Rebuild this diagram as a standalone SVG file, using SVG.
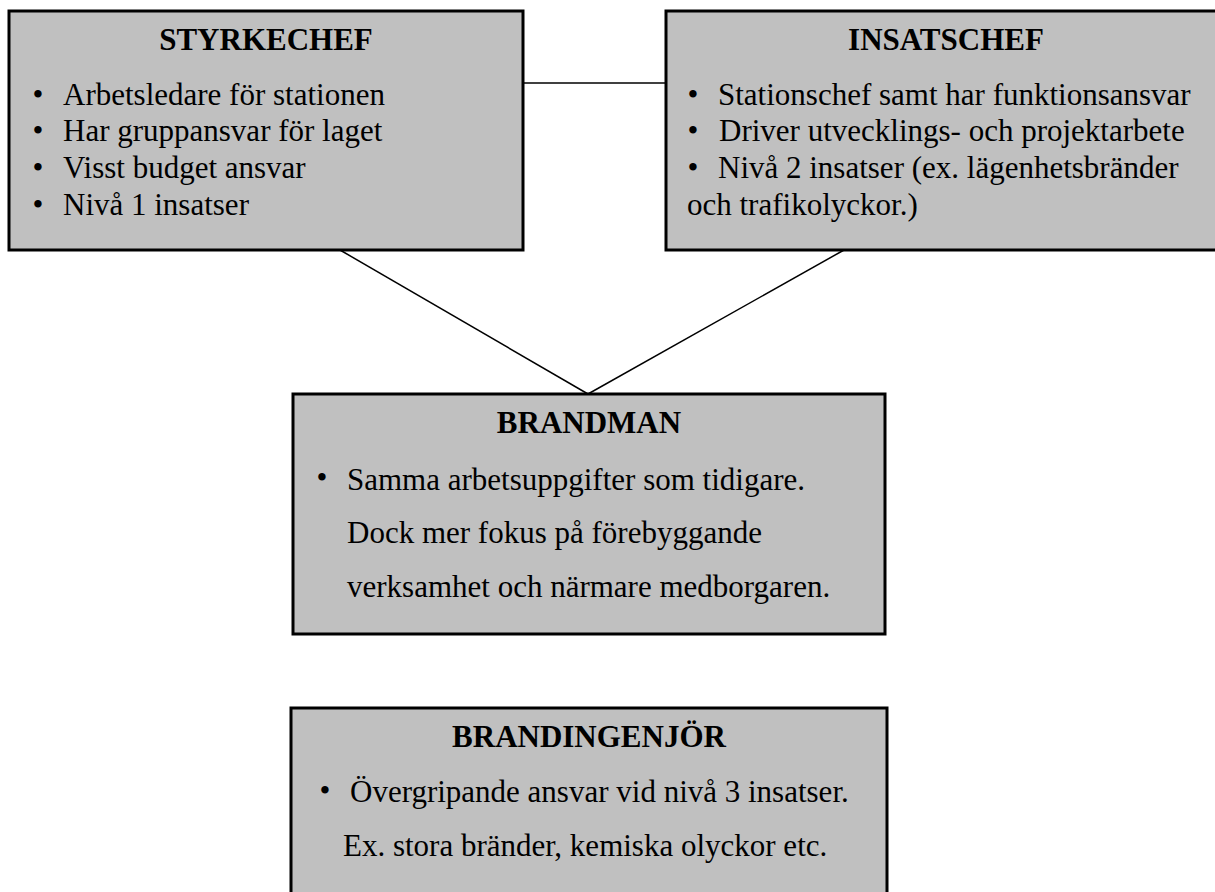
<svg xmlns="http://www.w3.org/2000/svg" width="1215" height="892" viewBox="0 0 1215 892">
<style>
.box{fill:#c0c0c0;stroke:#000;stroke-width:3}
.t{font-family:"Liberation Serif","Times New Roman",serif;font-size:31px;fill:#000}
.b{font-family:"Liberation Serif","Times New Roman",serif;font-size:31px;fill:#000;text-anchor:middle}
.h{font-family:"Liberation Serif","Times New Roman",serif;font-size:31px;font-weight:bold;fill:#000;text-anchor:middle}
.c{stroke:#000;stroke-width:1.5;fill:none}
</style>
<rect width="1215" height="892" fill="#fff"/>
<g id="connectors">
<line class="c" x1="523" y1="83" x2="667" y2="83"/>
<line class="c" x1="340" y1="250" x2="588" y2="394"/>
<line class="c" x1="844" y1="250" x2="588" y2="394"/>
</g>
<g id="styrkechef">
<rect class="box" x="9" y="11" width="514" height="239"/>
<text class="h" x="266" y="50">STYRKECHEF</text>
<text class="b" x="38" y="105">•</text><text class="t" x="63" y="105">Arbetsledare för stationen</text>
<text class="b" x="38" y="141">•</text><text class="t" x="63" y="141">Har gruppansvar för laget</text>
<text class="b" x="38" y="178">•</text><text class="t" x="63" y="178">Visst budget ansvar</text>
<text class="b" x="38" y="215">•</text><text class="t" x="63" y="215">Nivå 1 insatser</text>
</g>
<g id="insatschef">
<rect class="box" x="666" y="11" width="562" height="239"/>
<text class="h" x="946" y="50">INSATSCHEF</text>
<text class="b" x="693" y="105">•</text><text class="t" x="718" y="105">Stationschef samt har funktionsansvar</text>
<text class="b" x="693" y="141">•</text><text class="t" x="719" y="141">Driver utvecklings- och projektarbete</text>
<text class="b" x="693" y="178">•</text><text class="t" x="718" y="178">Nivå 2 insatser (ex. lägenhetsbränder</text>
<text class="t" x="687" y="215">och trafikolyckor.)</text>
</g>
<g id="brandman">
<rect class="box" x="293" y="394" width="592" height="240"/>
<text class="h" x="589" y="433">BRANDMAN</text>
<text class="b" x="322" y="488">•</text><text class="t" x="347" y="490">Samma arbetsuppgifter som tidigare.</text>
<text class="t" x="347" y="543">Dock mer fokus på förebyggande</text>
<text class="t" x="347" y="597">verksamhet och närmare medborgaren.</text>
</g>
<g id="brandingenjor">
<rect class="box" x="291" y="708" width="596" height="200"/>
<text class="h" x="589" y="747">BRANDINGENJÖR</text>
<text class="b" x="325" y="801">•</text><text class="t" x="350" y="802">Övergripande ansvar vid nivå 3 insatser.</text>
<text class="t" x="343" y="856">Ex. stora bränder, kemiska olyckor etc.</text>
</g>
</svg>
